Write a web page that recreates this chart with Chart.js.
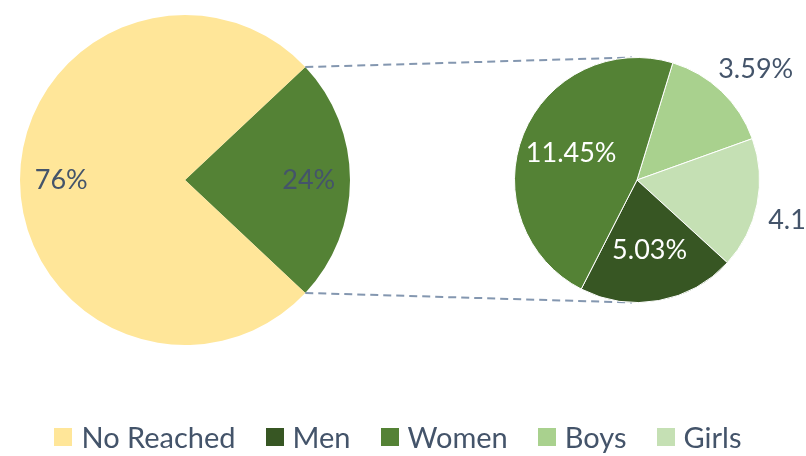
<!DOCTYPE html>
<html lang="en">
<head>
  <meta charset="UTF-8">
  <title>Reached - pie of pie</title>
  <script src="https://cdn.jsdelivr.net/npm/chart.js"></script>
  <style>
    body { margin: 0; background: #fff; font-family: 'Lato', sans-serif; }
    .wrap { position: relative; width: 806px; height: 456px; overflow: hidden; }
    .wrap canvas { position: absolute; left: 0; top: 0; }
    .legend {
      position: absolute; left: 0; top: 418px; width: 796px;
      display: flex; justify-content: center; gap: 30px;
      color: #44546A; font-size: 29px; line-height: 38px;
    }
    .legend span.item { display: flex; align-items: center; }
    .legend i { display: inline-block; width: 18px; height: 18px; margin-right: 9px; }
  </style>
</head>
<body>
  <div class="wrap">
    <canvas id="mainPie" width="806" height="456"></canvas>
    <canvas id="subPie" width="806" height="456"></canvas>
    <div class="legend" id="legend"></div>
  </div>

  <script>
    // main pie: reached vs not reached
    const mainLabels = ['Reached', 'No Reached'];
    const mainValues = [24, 76];
    const mainColors = ['#548235', '#FFE699'];

    // breakdown of the reached slice
    const subLabels = ['Boys', 'Girls', 'Men', 'Women'];
    const subValues = [3.59, 4.19, 5.03, 11.45];
    const subColors = ['#A9D18E', '#C5E0B4', '#375623', '#548235'];

    const legendLabels = ['No Reached', 'Men', 'Women', 'Boys', 'Girls'];
    const legendColors = ['#FFE699', '#375623', '#548235', '#A9D18E', '#C5E0B4'];

    const textColor = '#44546A';

    // percentage labels on the slices
    const sliceLabels = {
      id: 'sliceLabels',
      afterDatasetsDraw(chart, args, opts) {
        const ctx = chart.ctx;
        const ds = chart.data.datasets[0];
        const meta = chart.getDatasetMeta(0);
        const total = ds.data.reduce((a, b) => a + b, 0);
        ctx.save();
        ctx.font = opts.size + 'px Lato';
        ctx.textAlign = 'center';
        ctx.textBaseline = 'middle';
        meta.data.forEach((arc, i) => {
          const v = ds.data[i];
          const txt = v.toFixed(opts.decimals) + '%';
          const mid = (arc.startAngle + arc.endAngle) / 2;
          const dx = Math.cos(mid), dy = Math.sin(mid);
          const R = arc.outerRadius;
          let x, y;
          if (v / total < opts.outsideBelow) {
            // outside the pie, box pushed away from the edge
            const w = ctx.measureText(txt).width;
            x = arc.x + dx * (R + opts.gap) + dx * w / 2;
            y = arc.y + dy * (R + opts.gap) + (dy > 0 ? 1 : -1) * opts.size / 2;
            ctx.fillStyle = opts.outerColor;
          } else {
            x = arc.x + dx * R * opts.inset;
            y = arc.y + dy * R * opts.inset;
            ctx.fillStyle = opts.innerColor;
          }
          ctx.fillText(txt, x, y);
        });
        ctx.restore();
      }
    };

    const mainChart = new Chart(document.getElementById('mainPie'), {
      type: 'pie',
      data: {
        labels: mainLabels,
        datasets: [{ data: mainValues, backgroundColor: mainColors, borderWidth: 0 }]
      },
      options: {
        responsive: false,
        animation: false,
        events: [],
        rotation: 90 - mainValues[0] * 3.6 / 2,
        layout: { padding: { left: 20, top: 15, right: 456, bottom: 111 } },
        plugins: {
          legend: { display: false },
          tooltip: { enabled: false },
          sliceLabels: { size: 27, decimals: 0, inset: 0.75, outsideBelow: 0, gap: 0, innerColor: textColor, outerColor: textColor }
        }
      },
      plugins: [sliceLabels]
    });

    // dashed lines joining the reached slice to the second pie
    const connectors = {
      id: 'connectors',
      beforeDatasetsDraw(chart) {
        const src = mainChart.getDatasetMeta(0).data[0];
        const dst = chart.getDatasetMeta(0).data[0];
        const ctx = chart.ctx;
        ctx.save();
        ctx.strokeStyle = '#8497B0';
        ctx.lineWidth = 2;
        ctx.setLineDash([8, 5]);
        ctx.beginPath();
        ctx.moveTo(src.x + src.outerRadius * Math.cos(src.startAngle), src.y + src.outerRadius * Math.sin(src.startAngle));
        ctx.lineTo(dst.x - 5, dst.y - dst.outerRadius);
        ctx.moveTo(src.x + src.outerRadius * Math.cos(src.endAngle), src.y + src.outerRadius * Math.sin(src.endAngle));
        ctx.lineTo(dst.x - 5, dst.y + dst.outerRadius);
        ctx.stroke();
        ctx.restore();
      }
    };

    new Chart(document.getElementById('subPie'), {
      type: 'pie',
      data: {
        labels: subLabels,
        datasets: [{ data: subValues, backgroundColor: subColors, borderColor: '#fff', borderWidth: 1 }]
      },
      options: {
        responsive: false,
        animation: false,
        events: [],
        rotation: 17,
        layout: { padding: { left: 514, top: 57, right: 46, bottom: 153 } },
        plugins: {
          legend: { display: false },
          tooltip: { enabled: false },
          sliceLabels: { size: 27, decimals: 2, inset: 0.58, outsideBelow: 0.19, gap: 12, innerColor: '#fff', outerColor: textColor }
        }
      },
      plugins: [connectors, sliceLabels]
    });

    document.getElementById('legend').innerHTML = legendLabels
      .map((l, i) => `<span class="item"><i style="background:${legendColors[i]}"></i>${l}</span>`)
      .join('');
  </script>
</body>
</html>
